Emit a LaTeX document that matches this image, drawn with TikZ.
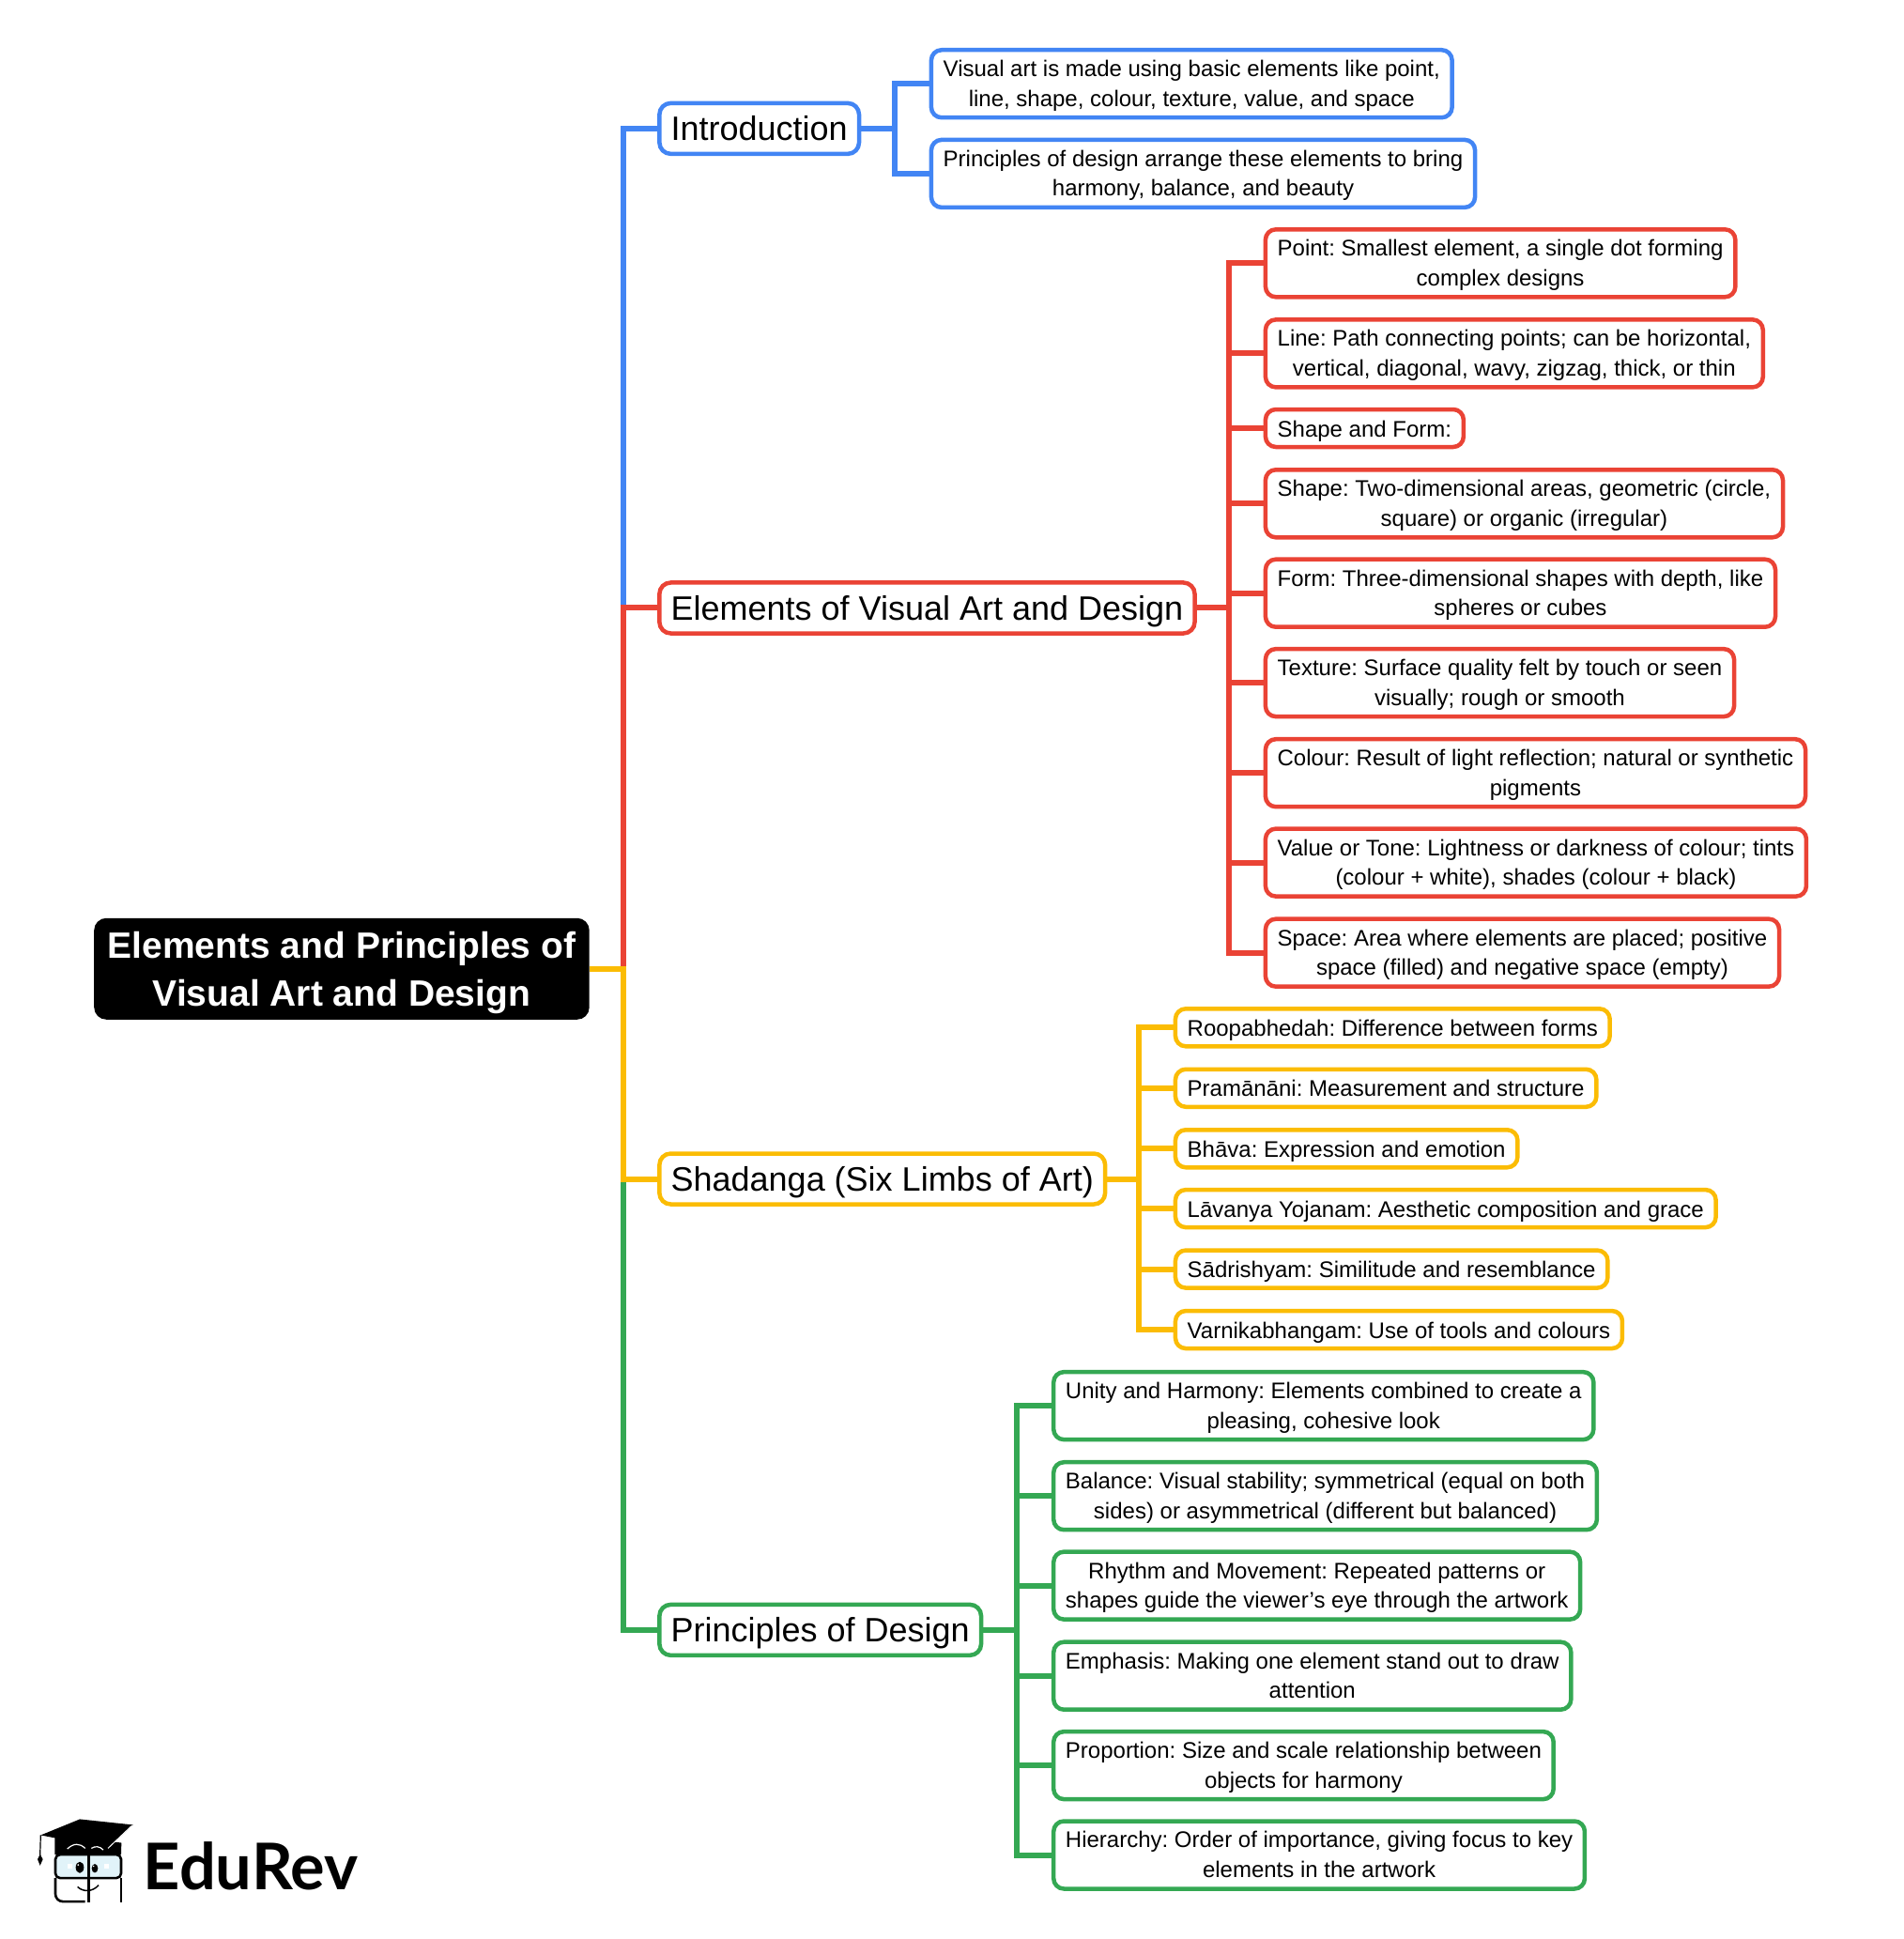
\documentclass[tikz,border=0pt]{standalone}
\usepackage{fontspec}
\setmainfont{Liberation Sans}
\newfontfamily\logofont{Lato}
\frenchspacing
\definecolor{cblue}{HTML}{4285F4}
\definecolor{cred}{HTML}{EA4335}
\definecolor{cyel}{HTML}{FBBC04}
\definecolor{cgreen}{HTML}{34A853}
\newcommand{\lfh}{\rule{0pt}{22pt}}
\newcommand{\rth}{\rule{0pt}{36.5pt}}
\tikzset{
  rootbox/.style={anchor=west,fill=black,text=white,rounded corners=13pt,inner xsep=14.5pt,inner ysep=0pt,
    minimum height=108pt,align=center,font=\fontsize{39}{51}\selectfont\bfseries,
    execute at end node=\rule[-8pt]{0pt}{8pt}},
  branchbox/.style={anchor=west,draw=#1,fill=white,line width=4.5pt,rounded corners=12pt,inner xsep=12.25pt,inner ysep=0pt,
    minimum height=54pt,font=\fontsize{36}{42}\selectfont,
    execute at begin node=\rule[-8.4pt]{0pt}{42pt}},
  leafbase/.style={anchor=west,draw=#1,fill=white,line width=4.5pt,rounded corners=11pt,inner xsep=12.75pt,inner ysep=0pt,
    align=center,font=\fontsize{24}{31.6}\selectfont},
  leafbox/.style={leafbase=#1,minimum height=72pt,execute at end node=\rule[-5.5pt]{0pt}{5.5pt}},
  smallleaf/.style={leafbase=#1,minimum height=40pt,
    execute at begin node=\rule{0pt}{26pt},execute at end node=\rule[-8pt]{0pt}{8pt}},
  wire/.style={draw=#1,line width=6pt,line cap=butt,line join=miter},
}
\begin{document}
\begin{tikzpicture}[x=1.316pt,y=-1.316pt]
\useasboundingbox (0,0) rectangle (1540.3,1569.1);
% junction columns
\coordinate (tk) at (504.5,0);
\coordinate (j1) at (724,0);
\coordinate (j2) at (995,0);
\coordinate (j3) at (922,0);
\coordinate (j4) at (823,0);
% root and branches
\node[rootbox] (root) at (76,784) {\rth Elements and Principles of\\Visual Art and Design};
\node[branchbox=cblue] (intro) at (532,104) {Introduction};
\node[branchbox=cred] (elem) at (532,492) {Elements of Visual Art and Design};
\node[branchbox=cyel] (shad) at (532,954) {Shadanga (Six Limbs of Art)};
\node[branchbox=cgreen] (prin) at (532,1319) {Principles of Design};
% introduction leaves
\node[leafbox=cblue] (i1) at (752,67.8) {\lfh Visual art is made using basic elements like point,\\line, shape, colour, texture, value, and space};
\node[leafbox=cblue] (i2) at (752,140.5) {\lfh Principles of design arrange these elements to bring\\harmony, balance, and beauty};
% elements leaves
\node[leafbox=cred] (e1) at (1022.5,213) {\lfh Point: Smallest element, a single dot forming\\complex designs};
\node[leafbox=cred] (e2) at (1022.5,286) {\lfh Line: Path connecting points; can be horizontal,\\vertical, diagonal, wavy, zigzag, thick, or thin};
\node[smallleaf=cred] (e3) at (1022.5,346.5) {Shape and Form:};
\node[leafbox=cred] (e4) at (1022.5,407.5) {\lfh Shape: Two-dimensional areas, geometric (circle,\\square) or organic (irregular)};
\node[leafbox=cred] (e5) at (1022.5,480) {\lfh Form: Three-dimensional shapes with depth, like\\spheres or cubes};
\node[leafbox=cred] (e6) at (1022.5,552.5) {\lfh Texture: Surface quality felt by touch or seen\\visually; rough or smooth};
\node[leafbox=cred] (e7) at (1022.5,625.5) {\lfh Colour: Result of light reflection; natural or synthetic\\pigments};
\node[leafbox=cred] (e8) at (1022.5,698) {\lfh Value or Tone: Lightness or darkness of colour; tints\\(colour + white), shades (colour + black)};
\node[leafbox=cred] (e9) at (1022.5,771) {\lfh Space: Area where elements are placed; positive\\space (filled) and negative space (empty)};
% shadanga leaves
\node[smallleaf=cyel] (s1) at (949.6,831.5) {Roopabhedah: Difference between forms};
\node[smallleaf=cyel] (s2) at (949.6,880.5) {Pramānāni: Measurement and structure};
\node[smallleaf=cyel] (s3) at (949.6,929.5) {Bhāva: Expression and emotion};
\node[smallleaf=cyel] (s4) at (949.6,978) {Lāvanya Yojanam: Aesthetic composition and grace};
\node[smallleaf=cyel] (s5) at (949.6,1027) {Sādrishyam: Similitude and resemblance};
\node[smallleaf=cyel] (s6) at (949.6,1076) {Varnikabhangam: Use of tools and colours};
% principles leaves
\node[leafbox=cgreen] (p1) at (851,1137.6) {\lfh Unity and Harmony: Elements combined to create a\\pleasing, cohesive look};
\node[leafbox=cgreen] (p2) at (851,1210.6) {\lfh Balance: Visual stability; symmetrical (equal on both\\sides) or asymmetrical (different but balanced)};
\node[leafbox=cgreen] (p3) at (851,1283.1) {\lfh Rhythm and Movement: Repeated patterns or\\shapes guide the viewer’s eye through the artwork};
\node[leafbox=cgreen] (p4) at (851,1356.1) {\lfh Emphasis: Making one element stand out to draw\\attention};
\node[leafbox=cgreen] (p5) at (851,1428.6) {\lfh Proportion: Size and scale relationship between\\objects for harmony};
\node[leafbox=cgreen] (p6) at (851,1501.1) {\lfh Hierarchy: Order of importance, giving focus to key\\elements in the artwork};
% main trunk
\draw[wire=cblue] (intro.west) -- (tk |- intro.west) -- (tk |- elem.west);
\draw[wire=cred] (elem.west) -- (tk |- elem.west) -- (tk |- root.east);
\draw[wire=cgreen] (prin.west) -- (tk |- prin.west) -- (tk |- shad.west);
\draw[wire=cyel] (shad.west) -- (tk |- shad.west) -- (tk |- root.east) -- (root.east);
% intro branch
\draw[wire=cblue] (intro.east) -- (j1 |- intro.east);
\draw[wire=cblue] (i1.west) -- (j1 |- i1.west) -- (j1 |- i2.west) -- (i2.west);
% elements branch
\draw[wire=cred] (elem.east) -- (j2 |- elem.east);
\draw[wire=cred] (e1.west) -- (j2 |- e1.west) -- (j2 |- e9.west) -- (e9.west);
\foreach \n in {e2,e3,e4,e5,e6,e7,e8} \draw[wire=cred] (j2 |- \n.west) -- (\n.west);
% shadanga branch
\draw[wire=cyel] (shad.east) -- (j3 |- shad.east);
\draw[wire=cyel] (s1.west) -- (j3 |- s1.west) -- (j3 |- s6.west) -- (s6.west);
\foreach \n in {s2,s3,s4,s5} \draw[wire=cyel] (j3 |- \n.west) -- (\n.west);
% principles branch
\draw[wire=cgreen] (prin.east) -- (j4 |- prin.east);
\draw[wire=cgreen] (p1.west) -- (j4 |- p1.west) -- (j4 |- p6.west) -- (p6.west);
\foreach \n in {p2,p3,p4,p5} \draw[wire=cgreen] (j4 |- \n.west) -- (\n.west);
% logo
\begin{scope}[x=0.33333pt,y=-0.33333pt,shift={(0pt,-1900pt)}]
  \draw[black,line width=2pt,fill=black] (178,165) -- (385,190) -- (384,222) -- (178,222) -- cycle;
  \fill[black] (130,163) -- (255,112) -- (425,130) -- (345,205) -- cycle;
  \draw[white,line width=1pt] (345,205) -- (422,132);
  \draw[black,line width=1.2pt] (130,163) -- (128,228);
  \fill[black] (128,224) -- (120,240) -- (128,260) -- (137,240) -- cycle;
  \draw[white,line width=1.2pt] (215,207) .. controls (235,188) and (255,188) .. (272,205);
  \draw[white,line width=1.2pt] (292,205) .. controls (305,197) and (318,198) .. (330,210);
  \draw[black,line width=2.6pt,fill=black!15!cyan!12!white,rounded corners=5pt] (177,225) rectangle (387,300);
  \draw[black,line width=2.6pt,rounded corners=8pt] (177,300) -- (177,375) -- (272,375);
  \draw[black,line width=2.6pt,rounded corners=8pt] (387,300) -- (387,377);
  \draw[black,line width=2.6pt] (283,222) -- (283,378);
  \fill[black] (255,266) ellipse [x radius=13,y radius=18];
  \fill[black] (303,269) ellipse [x radius=10,y radius=14];
  \fill[white] (250,258) circle [radius=3];
  \fill[white] (299,262) circle [radius=2.5];
  \fill[white] (216,256) rectangle (232,270);
  \fill[white] (332,256) rectangle (348,270);
  \draw[black,line width=1.5pt] (248,328) .. controls (265,345) and (295,345) .. (315,323);
\end{scope}
\node[anchor=base west,inner sep=0pt,font=\fontsize{68.5}{70}\selectfont\logofont\bfseries] (logotext) at (116,1529.5) {EduRev};
\end{tikzpicture}
\end{document}
